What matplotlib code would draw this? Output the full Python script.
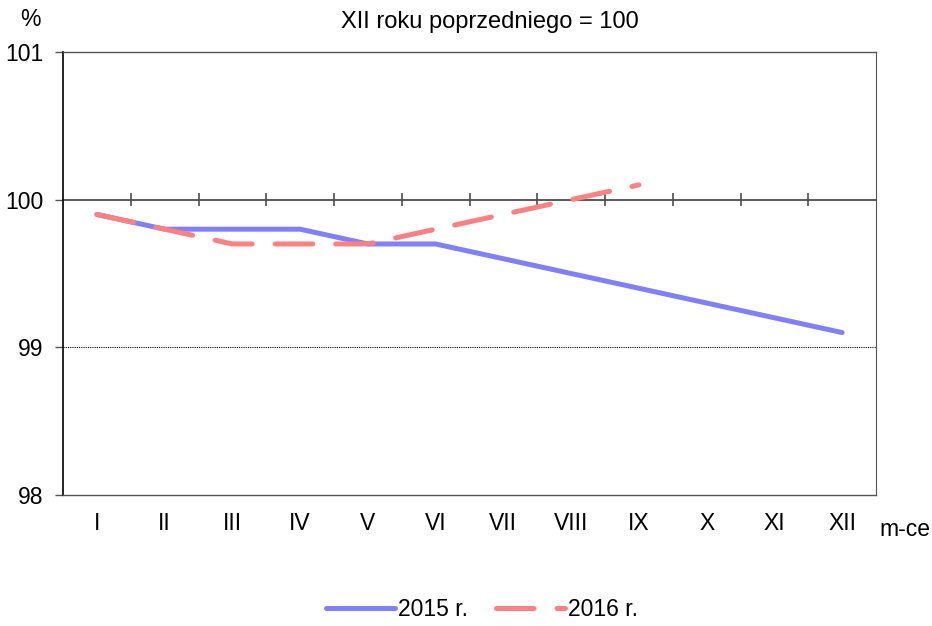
import numpy as np
import matplotlib.pyplot as plt

plt.rcParams['font.family'] = ['Liberation Sans', 'DejaVu Sans']

# miesiące i wskaźniki (XII roku poprzedniego = 100)
months = ['I', 'II', 'III', 'IV', 'V', 'VI', 'VII', 'VIII', 'IX', 'X', 'XI', 'XII']
y2015 = [99.9, 99.8, 99.8, 99.8, 99.7, 99.7, 99.6, 99.5, 99.4, 99.3, 99.2, 99.1]
y2016 = [99.9, 99.8, 99.7, 99.7, 99.7, 99.8, 99.9, 100.0, 100.1]
yticks = [98, 99, 100, 101]

fs = 16.5

fig = plt.figure(figsize=(9.32, 6.26), dpi=100)
ax = fig.add_axes([63 / 932, 1 - 495 / 626, (876 - 63) / 932, (495 - 52) / 626])

x = np.arange(len(months))
ax.plot(x, y2015, color='#8080FF', lw=3.6, solid_capstyle='round',
        label='2015 r.', zorder=3)
ax.plot(x[:len(y2016)], y2016, color='#FF8080', lw=3.6, dashes=(7.5, 4.6),
        dash_capstyle='round', label='2016 r.', zorder=4)

ax.set_xlim(-0.5, len(months) - 0.5)
ax.set_ylim(98, 101)

# linie poziome
ax.axhline(100, color='#4d4d4d', lw=1.3, zorder=2)
ax.axhline(99, color='black', lw=0.8, ls=(0, (1, 1)), zorder=2)
# znaczniki kategorii na osi 100
bounds = np.arange(0.5, len(months) - 0.5)
ax.vlines(bounds, 99.958, 100.042, color='#4d4d4d', lw=1.2, zorder=2)

for s in ['top', 'bottom']:
    ax.spines[s].set_color('#555555')
    ax.spines[s].set_linewidth(1.0)
ax.spines['right'].set_color('#555555')
ax.spines['left'].set_color('black')
ax.spines['left'].set_linewidth(1.2)

ax.set_yticks(yticks)
ax.set_yticklabels([str(v) for v in yticks], fontsize=fs)
ax.tick_params(axis='y', length=6, width=1, color='#555555', pad=8)
ax.set_xticks(x)
ax.set_xticklabels(months, fontsize=fs)
ax.tick_params(axis='x', length=0, pad=12)

fig.text(30 / 932, 1 - 20 / 626, '%', fontsize=fs, ha='center', va='center')
fig.text(490 / 932, 1 - 22 / 626, 'XII roku poprzedniego = 100', fontsize=17,
         ha='center', va='center')
fig.text(905 / 932, 1 - 529 / 626, 'm-ce', fontsize=fs, ha='center', va='center')

fig.legend(loc='center', bbox_to_anchor=(482 / 932, 1 - 610 / 626), ncol=2,
           frameon=False, fontsize=fs, handlelength=3.0, handletextpad=0.15,
           columnspacing=1.2)

fig.savefig('out.png', dpi=100)
